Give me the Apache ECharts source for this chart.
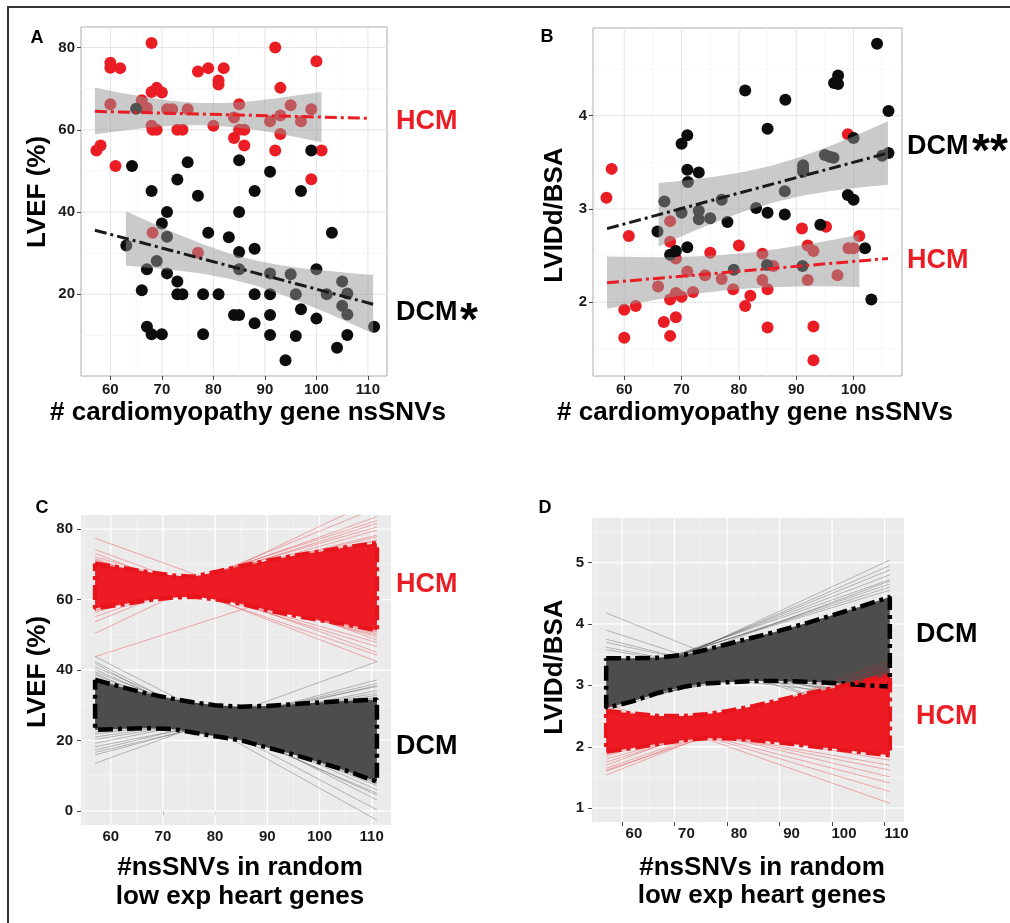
<!DOCTYPE html>
<html><head><meta charset="utf-8">
<script src="https://cdn.jsdelivr.net/npm/echarts@6/dist/echarts.min.js"></script>
<style>html,body{margin:0;padding:0;background:#fff}#c{width:1010px;height:923px}</style>
</head><body><div id="c"></div>
<script>
// ================= DATA =================
// Panel A: LVEF vs # cardiomyopathy gene nsSNVs
const A_HCM_PTS = [[57.3,55.0],[58.1,56.2],[60,76.3],[60,75.1],[61.9,75],[61,51.2],[60,66.2],[68,81.1],[66.1,67.2],[67.1,65.3],[68,61],[69,60],[68.2,60],[68,69.2],[69,70.2],[70,69.1],[71,65],[72,65],[73,60],[74,60],[75,65],[77,74.2],[79,75],[81,72],[81,71],[82,75],[80,61],[84,58],[84,63],[85,66.2],[85,60],[86,60],[86,56.2],[92,80],[93,70.2],[92,55],[93,63.5],[93,59],[91,62.1],[95,66],[97,62.1],[99,65],[100,76.7],[99,48],[101,55],[68.2,35],[77,30.1]];
const A_DCM_PTS = [[64.2,51.2],[65,65.1],[63.1,31.9],[66.1,21],[67.1,26.1],[67.1,12.1],[68,10.3],[70,10.3],[68,45.1],[69,28.1],[70,37.2],[71,40],[71,34],[71,25.1],[73,47.9],[73,23.1],[73,20],[74,20],[75,52.1],[77,44],[78,10.3],[78,20],[79,35],[81,20],[83,33.9],[84,15],[85,15],[85,52.6],[85,40],[85,30.3],[85,26.1],[88,45.1],[88,31.1],[88,20],[88,13],[91,49.8],[91,25.1],[91,20],[91,15],[91,10.1],[94,4],[95,24.9],[96,20],[96,9.9],[97,16.4],[97,45.1],[99,55],[100,26.1],[100,14.1],[102,20],[103,35],[104,7],[105,23.1],[105,17.2],[106,20.2],[106,15.1],[106,10.1],[111.2,12.1]];
const A_HCM_FIT = [[57,64.5],[110,62.8]];
const A_DCM_FIT = [[57,35.6],[111,17.6]];
const A_HCM_BAND_X = [57,62,67,72,77,82,87,92,97,101];
const A_HCM_BAND_UP = [70.2,69.0,67.9,67.0,66.5,66.5,66.9,67.6,68.5,69.2];
const A_HCM_BAND_LO = [58.9,59.7,60.5,61.0,61.2,60.9,60.2,59.2,58.0,57.0];
const A_DCM_BAND_X = [63,68,73,78,83,88,93,98,103,108,111];
const A_DCM_BAND_UP = [40.2,37.4,34.7,32.2,30.0,28.3,27.1,26.2,25.6,25.0,24.7];
const A_DCM_BAND_LO = [27.0,26.4,25.8,25.0,23.8,22.2,20.1,17.6,15.0,12.2,10.5];

// Panel B: LVIDd/BSA vs # cardiomyopathy gene nsSNVs
const B_HCM_PTS = [[56.9,3.12],[57.8,3.43],[60.8,2.71],[60,1.92],[60,1.62],[62,1.96],[65.9,2.17],[66.9,1.79],[68,2.87],[68,2.65],[68,2.03],[68,1.64],[69,2.47],[69,2.1],[69,1.84],[70,2.06],[71,2.33],[72,2.11],[74.1,2.29],[75,2.53],[77,2.25],[79,2.14],[80,2.61],[81.1,1.96],[82,2.07],[84.1,2.52],[84.1,2.24],[85,2.14],[85,1.73],[86,2.39],[91,2.79],[92,2.61],[92,2.24],[93,2.55],[93,1.74],[93,1.38],[95.2,2.81],[97.2,2.29],[99,3.8],[99.1,2.58],[100,2.58],[101,2.71]];
const B_DCM_PTS = [[104.1,4.77],[96.6,4.35],[97.3,4.34],[97.3,4.43],[81.1,4.27],[88.1,4.17],[106.1,4.05],[85,3.86],[71,3.79],[70,3.7],[71,3.42],[73,3.39],[71.1,3.29],[106.1,3.6],[100,3.76],[105,3.57],[95,3.58],[95.8,3.56],[96.5,3.55],[91.2,3.47],[91.2,3.43],[91.2,3.4],[88,3.19],[67,3.08],[77,3.1],[70,2.96],[73,2.98],[73,2.89],[75,2.9],[83,3.01],[85,2.96],[88,2.94],[78,2.86],[65.8,2.76],[99,3.15],[100,3.1],[94.2,2.83],[68,2.51],[69,2.55],[71,2.59],[79.1,2.35],[84.9,2.4],[91.1,2.39],[102,2.58],[103.1,2.03]];
const B_HCM_FIT = [[57,2.21],[106,2.47]];
const B_DCM_FIT = [[57,2.79],[106,3.6]];
const B_HCM_BAND_X = [57,62,67,72,77,82,87,92,97,101];
const B_HCM_BAND_UP = [2.49,2.485,2.483,2.49,2.507,2.535,2.573,2.621,2.676,2.723];
const B_HCM_BAND_LO = [1.93,1.989,2.043,2.09,2.125,2.151,2.165,2.171,2.168,2.163];
const B_DCM_BAND_X = [66,71,76,81,86,91,96,101,106];
const B_DCM_BAND_UP = [3.279,3.308,3.347,3.398,3.469,3.563,3.678,3.804,3.94];
const B_DCM_BAND_LO = [2.599,2.734,2.861,2.976,3.069,3.141,3.192,3.23,3.26];

// Panels C / D: random low-expression gene sets (fits spanning 57..111)
const FAN_X = [57, 111];
const ENV_X = [57,62,67,72,76,80,85,90,95,100,105,111];
// C: LVEF
const C_HCM_UP = [70.2,69.0,67.8,66.8,66.5,67.8,69.5,71.0,72.4,73.6,74.8,76.0];
const C_HCM_LO = [57.5,58.6,59.8,60.6,60.8,60.1,58.8,57.0,55.5,54.2,53.0,51.3];
const C_DCM_UP = [37.2,35.2,33.3,31.8,30.8,30.0,29.6,29.8,30.3,30.8,31.2,31.6];
const C_DCM_LO = [23.0,23.3,23.5,23.2,22.2,21.2,20.0,18.0,16.0,13.8,11.5,8.3];
const C_HCM_FAN_L = [57.0,56.3,55.1,53.7,50.4,58.2,58.6,57.6,56.8,59.0,59.3,77.4,74.2,73.1,72.1,71.2,70.6,70.3,70.9,71.6,69.8,69.5,43.8];
const C_HCM_FAN_R = [79.7,81.6,83.5,86.0,88.5,78.3,77.8,80.6,82.4,77.0,76.6,48.5,45.0,42.4,49.4,46.6,47.8,49.9,50.3,44.2,50.8,51.0,69.4];
const C_DCM_FAN_L = [43.8,42.4,41.9,40.9,39.5,40.2,38.6,39.0,38.0,37.6,13.5,15.9,17.3,19.2,18.2,20.3,16.6,21.0,21.8,22.3];
const C_DCM_FAN_R = [3.1,0.3,-2.6,6.0,8.8,4.5,7.2,5.0,7.8,8.0,42.4,37.2,36.2,35.3,34.2,33.4,35.6,32.8,32.2,32.0];
// D: LVIDd/BSA
const D_DCM_UP = [3.44,3.44,3.45,3.50,3.58,3.67,3.78,3.89,4.01,4.14,4.27,4.44];
const D_DCM_LO = [2.63,2.74,2.88,2.98,3.03,3.05,3.07,3.07,3.06,3.04,3.01,2.98];
const D_HCM_UP = [2.58,2.54,2.50,2.50,2.53,2.58,2.66,2.76,2.86,2.95,3.05,3.16];
const D_HCM_LO = [1.92,1.98,2.05,2.11,2.14,2.14,2.11,2.07,2.02,1.97,1.92,1.86];
const D_DCM_FAN_L = [2.90,2.95,3.00,3.05,3.10,3.08,3.12,3.15,2.98,4.18,3.90,3.75,3.70,3.62,3.58,2.60,2.65,2.68,2.70,2.72,3.35,3.30,3.38];
const D_DCM_FAN_R = [5.04,4.95,4.88,4.80,4.72,4.65,4.60,4.55,4.70,2.30,2.40,2.60,2.70,2.75,2.80,3.90,3.80,3.70,3.60,3.55,2.85,2.80,2.90];
const D_HCM_FAN_L = [2.70,2.65,2.60,2.62,2.55,2.50,2.58,1.54,1.60,1.65,1.70,1.75,1.80,1.62,1.85,1.88];
const D_HCM_FAN_R = [1.08,1.27,1.41,1.51,1.62,1.70,1.78,3.35,3.30,3.25,3.40,3.20,3.10,3.15,3.22,3.18];

// Axis ticks
const X_MAJOR = [60,70,80,90,100,110];
const X_MINOR = [55,65,75,85,95,105];
const B_X_MAJOR = [60,70,80,90,100];
const A_Y_MAJOR = [20,40,60,80];
const A_Y_MINOR = [10,30,50,70];
const B_Y_MAJOR = [2,3,4];
const B_Y_MINOR = [1.5,2.5,3.5,4.5];
const C_Y_MAJOR = [0,20,40,60,80];
const C_Y_MINOR = [10,30,50,70];
const D_Y_MAJOR = [1,2,3,4,5];
const D_Y_MINOR = [1.5,2.5,3.5,4.5,5.5];

// ================= STYLE / BUILD =================
const FONT = '"Liberation Sans", Arial, sans-serif';
const RED = '#EA1D25';
const BLACK = '#0d0d0d';
const BAND = 'rgba(150,150,150,0.5)';

const XR = [[54.3,113.7],[54.55,108.45],[54.3,113.7],[54.3,113.7]];
const YR = [[0.15,85.0],[1.21,4.94],[-4,84],[0.775,5.725]];

const chart = echarts.init(document.getElementById('c'), null, {renderer:'canvas'});

function xAx(i, ticks, margin, pad) {
  return {type:'value', gridIndex:i, min:XR[i][0], max:XR[i][1],
    axisLine:{show:false}, splitLine:{show:false}, minorTick:{show:false},
    axisTick:{show:true, customValues:ticks, length:4, lineStyle:{color:'#444', width:1}},
    axisLabel:{show:true, customValues:ticks, margin:margin, color:'#1a1a1a', fontWeight:'bold', fontSize:15, fontFamily:FONT, padding:pad||0}};
}
function yAx(i, ticks, margin) {
  return {type:'value', gridIndex:i, min:YR[i][0], max:YR[i][1],
    axisLine:{show:false}, splitLine:{show:false},
    axisTick:{show:true, customValues:ticks, length:4, lineStyle:{color:'#444', width:1}},
    axisLabel:{show:true, customValues:ticks, margin:margin, color:'#1a1a1a', fontWeight:'bold', fontSize:15, fontFamily:FONT}};
}
function gridLines(i, xMaj, xMin, yMaj, yMin, majColor, minColor, majW, minW) {
  const data = [];
  xMin.forEach(v => data.push([v,0,0])); yMin.forEach(v => data.push([v,1,0]));
  xMaj.forEach(v => data.push([v,0,1])); yMaj.forEach(v => data.push([v,1,1]));
  return {type:'custom', xAxisIndex:i, yAxisIndex:i, z:1, silent:true, data:data,
    dimensions:['v','o','m'], encode:{x:0, y:1},
    renderItem:function(p, api){
      const v = api.value(0), o = api.value(1), mj = api.value(2);
      let a, b;
      if (o === 0) { a = api.coord([v, YR[i][0]]); b = api.coord([v, YR[i][1]]); }
      else { a = api.coord([XR[i][0], v]); b = api.coord([XR[i][1], v]); }
      return {type:'line', shape:{x1:a[0], y1:a[1], x2:b[0], y2:b[1]},
        style:{stroke: mj ? majColor : minColor, lineWidth: mj ? majW : minW}};
    }};
}
function poly(i, xs, up, lo, fill, z) {
  return {type:'custom', xAxisIndex:i, yAxisIndex:i, z:z, silent:true, data:[[xs[0], up[0]]],
    renderItem:function(p, api){
      const pts = [];
      for (let k=0;k<xs.length;k++) pts.push(api.coord([xs[k], up[k]]));
      for (let k=xs.length-1;k>=0;k--) pts.push(api.coord([xs[k], lo[k]]));
      return {type:'polygon', shape:{points:pts}, style:{fill:fill}};
    }};
}
function line(i, pts, color, width, dash, z) {
  return {type:'line', xAxisIndex:i, yAxisIndex:i, data:pts, symbol:'none', z:z, silent:true,
    lineStyle:{color:color, width:width, type:dash, cap:'butt'}};
}
function envelope(i, xs, up, lo, color, z) {
  const pts = xs.map((x,k)=>[x, up[k]]);
  for (let k=xs.length-1;k>=0;k--) pts.push([xs[k], lo[k]]);
  pts.push([xs[0], up[0]]);
  return line(i, pts, color, 4.5, [15,5,4,5], z);
}
function fan(i, L, R, color, z) {
  return {type:'lines', coordinateSystem:'cartesian2d', xAxisIndex:i, yAxisIndex:i, z:z, silent:true, clip:true,
    data: L.map((l,k)=>({coords:[[FAN_X[0], l],[FAN_X[1], R[k]]]})),
    lineStyle:{color:color, width:1, opacity:1}};
}
function scatter(i, pts, color, z) {
  return {type:'scatter', xAxisIndex:i, yAxisIndex:i, data:pts, symbolSize:12, z:z, silent:true,
    itemStyle:{color:color, opacity:1}};
}
function txt(x, y, s, size, color, align, extra) {
  return Object.assign({type:'text', x:x, y:y, z:100, silent:true,
    style:{text:s, fill:color, font:'bold '+size+'px '+FONT,
      textAlign:align||'center', align:align||'center', textVerticalAlign:'middle', verticalAlign:'middle'}}, extra||{});
}

const option = {
  animation:false,
  backgroundColor:'#ffffff',
  grid:[
    {left:81, top:27, width:306, height:349, show:true, backgroundColor:'#ffffff', borderColor:'#ababab', borderWidth:1},
    {left:593, top:28, width:309, height:348, show:true, backgroundColor:'#ffffff', borderColor:'#ababab', borderWidth:1},
    {left:81, top:515, width:310, height:310, show:true, backgroundColor:'#EBEBEB', borderWidth:0},
    {left:592, top:518, width:312, height:304, show:true, backgroundColor:'#EBEBEB', borderWidth:0}
  ],
  xAxis:[ xAx(0, X_MAJOR, 6), xAx(1, B_X_MAJOR, 6), xAx(2, X_MAJOR, 4), xAx(3, X_MAJOR, 4, [0,0,0,24]) ],
  yAxis:[ yAx(0, A_Y_MAJOR, 6), yAx(1, B_Y_MAJOR, 6), yAx(2, C_Y_MAJOR, 8), yAx(3, D_Y_MAJOR, 8) ],
  series:[
    // ---- A ----
    gridLines(0, X_MAJOR, X_MINOR, A_Y_MAJOR, A_Y_MINOR, '#e4e4e4', '#f3f3f3', 1, 0.7),
    scatter(0, A_HCM_PTS, RED, 2),
    scatter(0, A_DCM_PTS, BLACK, 3),
    poly(0, A_HCM_BAND_X, A_HCM_BAND_UP, A_HCM_BAND_LO, BAND, 4),
    poly(0, A_DCM_BAND_X, A_DCM_BAND_UP, A_DCM_BAND_LO, BAND, 4),
    line(0, A_HCM_FIT, RED, 3, [12,4,3,4], 5),
    line(0, A_DCM_FIT, '#1a1a1a', 3, [12,4,3,4], 5),
    // ---- B ----
    gridLines(1, B_X_MAJOR, X_MINOR, B_Y_MAJOR, B_Y_MINOR, '#e4e4e4', '#f3f3f3', 1, 0.7),
    scatter(1, B_HCM_PTS, RED, 2),
    scatter(1, B_DCM_PTS, BLACK, 3),
    poly(1, B_HCM_BAND_X, B_HCM_BAND_UP, B_HCM_BAND_LO, BAND, 4),
    poly(1, B_DCM_BAND_X, B_DCM_BAND_UP, B_DCM_BAND_LO, BAND, 4),
    line(1, B_HCM_FIT, RED, 3, [12,4,3,4], 5),
    line(1, B_DCM_FIT, '#1a1a1a', 3, [12,4,3,4], 5),
    // ---- C ----
    gridLines(2, X_MAJOR, X_MINOR, C_Y_MAJOR, C_Y_MINOR, '#ffffff', 'rgba(255,255,255,0.6)', 1.3, 0.6),
    fan(2, C_DCM_FAN_L, C_DCM_FAN_R, 'rgba(70,70,70,0.35)', 2),
    poly(2, ENV_X, C_DCM_UP, C_DCM_LO, '#4d4d4d', 3),
    fan(2, C_HCM_FAN_L, C_HCM_FAN_R, 'rgba(236,28,36,0.35)', 4),
    poly(2, ENV_X, C_HCM_UP, C_HCM_LO, '#ED1C24', 5),
    envelope(2, ENV_X, C_DCM_UP, C_DCM_LO, '#000000', 6),
    envelope(2, ENV_X, C_HCM_UP, C_HCM_LO, '#E8141C', 7),
    // ---- D ----
    gridLines(3, X_MAJOR, X_MINOR, D_Y_MAJOR, D_Y_MINOR, '#ffffff', 'rgba(255,255,255,0.6)', 1.3, 0.6),
    fan(3, D_DCM_FAN_L, D_DCM_FAN_R, 'rgba(70,70,70,0.35)', 2),
    poly(3, ENV_X, D_DCM_UP, D_DCM_LO, '#4d4d4d', 3),
    fan(3, D_HCM_FAN_L, D_HCM_FAN_R, 'rgba(236,28,36,0.35)', 4),
    poly(3, ENV_X, D_HCM_UP, D_HCM_LO, '#ED1C24', 5),
    envelope(3, ENV_X, D_DCM_UP, D_DCM_LO, '#000000', 6),
    envelope(3, ENV_X, D_HCM_UP, D_HCM_LO, '#E8141C', 7)
  ],
  graphic:[
    {type:'rect', z:100, silent:true, shape:{x:8, y:7, width:1010, height:930}, style:{fill:'none', stroke:'#333', lineWidth:2}},
    txt(37, 38, 'A', 18, '#000'), txt(547, 37, 'B', 18, '#000'), txt(42, 508, 'C', 18, '#000'), txt(545, 508, 'D', 18, '#000'),
    txt(248, 413, '# cardiomyopathy gene nsSNVs', 26, '#000'),
    txt(755, 413, '# cardiomyopathy gene nsSNVs', 26, '#000'),
    txt(38, 192, 'LVEF (%)', 26, '#000', 'center', {rotation:Math.PI/2}),
    txt(555, 215, 'LVIDd/BSA', 26, '#000', 'center', {rotation:Math.PI/2}),
    txt(38, 672, 'LVEF (%)', 26, '#000', 'center', {rotation:Math.PI/2}),
    txt(555, 667, 'LVIDd/BSA', 26, '#000', 'center', {rotation:Math.PI/2}),
    txt(240, 868, '#nsSNVs in random', 26, '#000'),
    txt(240, 897, 'low exp heart genes', 26, '#000'),
    txt(762, 868, '#nsSNVs in random', 26, '#000'),
    txt(762, 896, 'low exp heart genes', 26, '#000'),
    txt(396, 122, 'HCM', 27, RED, 'left'),
    txt(396, 313, 'DCM', 27, '#000', 'left'),
    txt(469, 322, '*', 46, '#000'),
    txt(907, 147, 'DCM', 27, '#000', 'left'),
    txt(981, 153, '*', 46, '#000'),
    txt(999, 153, '*', 46, '#000'),
    txt(907, 261, 'HCM', 27, RED, 'left'),
    txt(396, 585, 'HCM', 27, RED, 'left'),
    txt(396, 747, 'DCM', 27, '#000', 'left'),
    txt(916, 635, 'DCM', 27, '#000', 'left'),
    txt(916, 717, 'HCM', 27, RED, 'left')
  ]
};
chart.setOption(option);
</script>
</body></html>
